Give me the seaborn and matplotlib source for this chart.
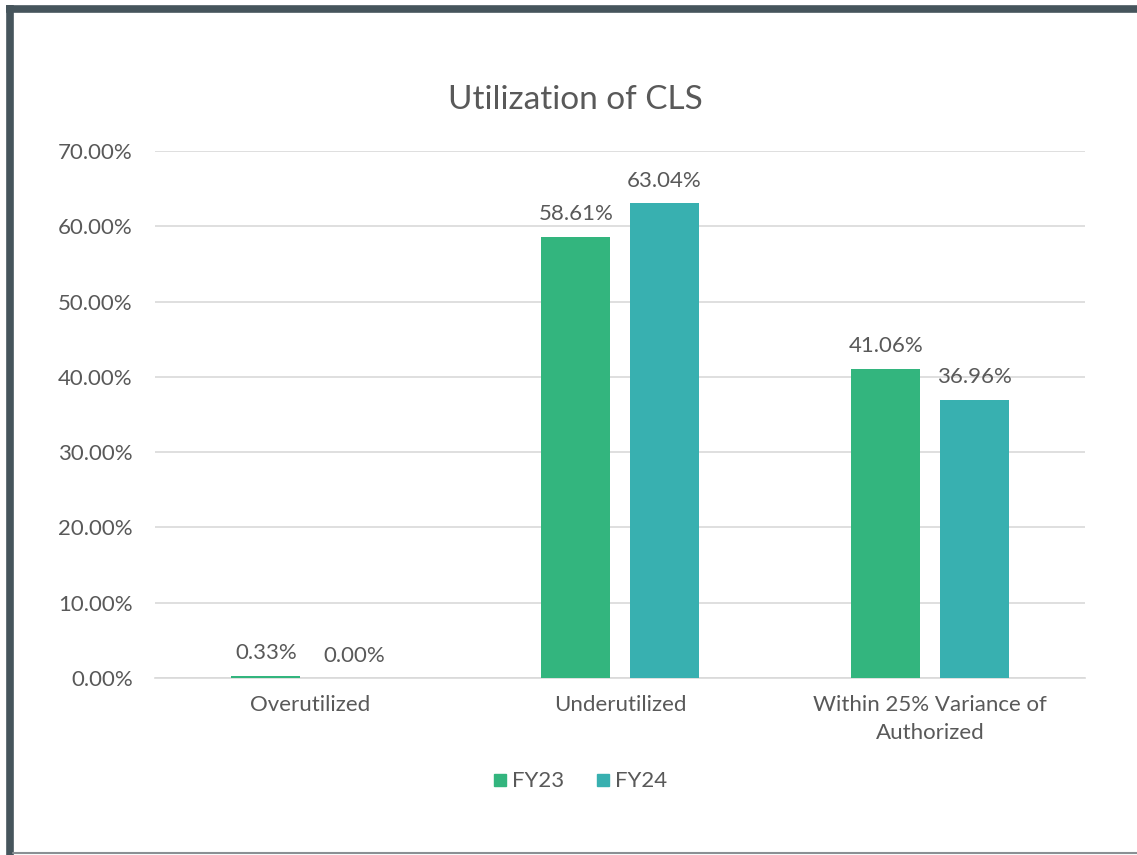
import matplotlib
matplotlib.use("Agg")
import matplotlib.pyplot as plt
from matplotlib.lines import Line2D
from matplotlib.ticker import PercentFormatter
import pandas as pd
import seaborn as sns

categories = ["Overutilized", "Underutilized", "Within 25% Variance of\nAuthorized"]
years = ["FY23", "FY24"]
fy23 = [0.33, 58.61, 41.06]
fy24 = [0.00, 63.04, 36.96]

df = pd.DataFrame({
    "category": categories * 2,
    "year": ["FY23"] * 3 + ["FY24"] * 3,
    "value": fy23 + fy24,
})

sns.set_style("white")
plt.rcParams["font.family"] = ["Lato", "DejaVu Sans"]
text_color = "#595959"
palette = {"FY23": "#33B57E", "FY24": "#38B0B0"}

fig = plt.figure(figsize=(11.37, 8.55), dpi=100)
ax = fig.add_axes([0.1363, 0.2070, 0.818, 0.6164])

sns.barplot(data=df, x="category", y="value", hue="year", palette=palette,
            width=0.57, gap=0.22, ax=ax, legend=False, saturation=1,
            linewidth=0, zorder=3)

for cont, vals in zip(ax.containers, [fy23, fy24]):
    ax.bar_label(cont, labels=[f"{v:.2f}%" for v in vals], padding=9,
                 fontsize=16, color=text_color)

ax.set_xlim(-0.5, 2.5)
ax.set_ylim(0, 70)
ax.set_yticks(range(0, 71, 10))
ax.yaxis.set_major_formatter(PercentFormatter(decimals=2))
ax.grid(axis="y", color="#D9D9D9", linewidth=1.2)
ax.set_axisbelow(True)
for s in ["top", "right", "left"]:
    ax.spines[s].set_visible(False)
ax.spines["bottom"].set_color("#D9D9D9")
ax.spines["bottom"].set_linewidth(1.2)
ax.tick_params(axis="both", length=0, labelsize=16, labelcolor=text_color)
ax.tick_params(axis="y", pad=16)
ax.tick_params(axis="x", pad=12)
for lbl in ax.get_xticklabels():
    lbl.set_linespacing(1.5)
ax.set_xlabel("")
ax.set_ylabel("")

fig.text(0.506, 0.883, "Utilization of CLS", ha="center", va="center",
         fontsize=24, color=text_color)

handles = [Line2D([], [], marker="s", linestyle="", markersize=8,
                  color=palette[y]) for y in years]
fig.legend(handles, years, loc="center", bbox_to_anchor=(0.506, 0.086),
           ncol=2, frameon=False, fontsize=16, handletextpad=-0.2,
           handlelength=1.5, columnspacing=1.0, labelcolor=text_color)

# slide frame
border = "#46555C"
fig.add_artist(Line2D([0.0053, 1.0], [0.990, 0.990], color=border,
                      linewidth=5.5, transform=fig.transFigure, solid_capstyle="butt"))
fig.add_artist(Line2D([0.0085, 0.0085], [0.994, 0.0], color=border,
                      linewidth=5.5, transform=fig.transFigure, solid_capstyle="butt"))
fig.add_artist(Line2D([0.011, 1.0], [0.0023, 0.0023], color="#8A9094",
                      linewidth=1.5, transform=fig.transFigure))

fig.savefig("out.png", dpi=100)
